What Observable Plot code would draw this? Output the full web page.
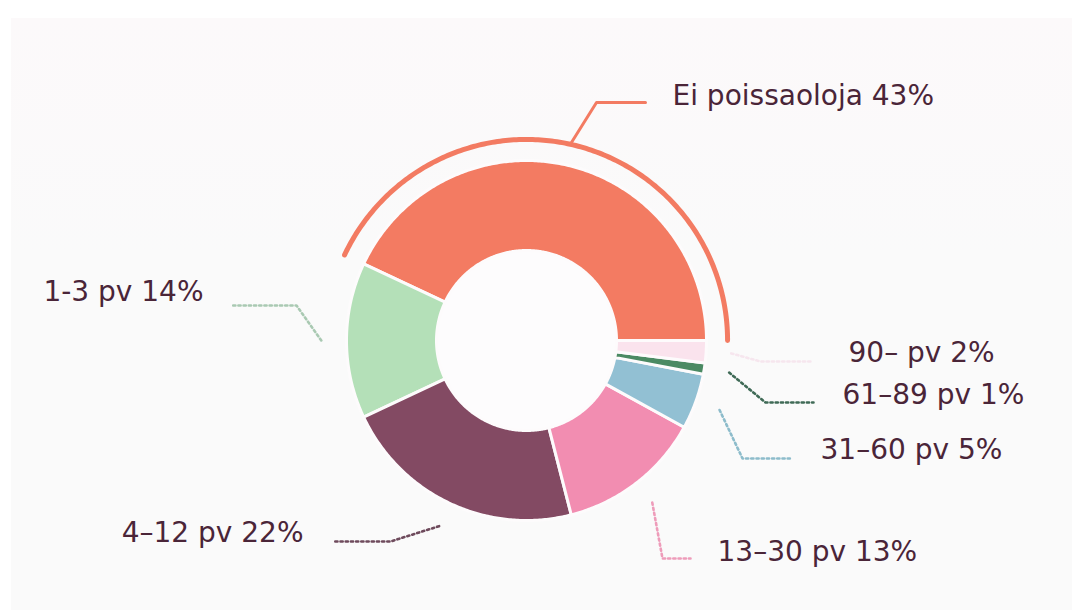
<!DOCTYPE html>
<html><head><meta charset="utf-8">
<script src="https://cdn.jsdelivr.net/npm/d3@7"></script>
<script src="https://cdn.jsdelivr.net/npm/@observablehq/plot@0.6"></script>
<style>
html,body{margin:0;padding:0;background:#fff;width:1072px;height:610px;overflow:hidden}
#panel{position:absolute;left:11px;top:18px;right:0;bottom:0;background:linear-gradient(#fcf9fa,#fafafa 40%)}
#chart{position:absolute;left:0;top:0}
</style></head><body><div id="panel"></div><div id="chart"></div>
<script>
// ---- data ----
const categories = ["Ei poissaoloja", "1-3 pv", "4–12 pv", "13–30 pv", "31–60 pv", "61–89 pv", "90– pv"];
const shares = [43, 14, 22, 13, 5, 1, 2];
const colors = ["#f37b62", "#b4e0b8", "#834a63", "#f28db1", "#92c0d3", "#4b8a63", "#fae3ed"];
const leaderColors = ["#f37b62", "#a9c9b2", "#6e4a5c", "#ee9cba", "#8dbccb", "#3f6a56", "#f6e6ee"];

// ---- layout (pixels of the 1072x610 frame) ----
const W = 1072, H = 610, CX = 526, CY = 340, R = 180;
const INNER = 0.5, HALO = 1.117, START = 1.14;
const labelLayout = [
  {anchor: "start", tx: 672, ty: 96,  ex: 596, lx: 645, ly: 102},
  {anchor: "end",   tx: 203, ty: 292, ex: 296, lx: 230, ly: 305},
  {anchor: "end",   tx: 303, ty: 533, ex: 390, lx: 333, ly: 541},
  {anchor: "start", tx: 717, ty: 552, ex: 662, lx: 690, ly: 558},
  {anchor: "start", tx: 820, ty: 450, ex: 742, lx: 792, ly: 458},
  {anchor: "start", tx: 842, ty: 395, ex: 765, lx: 813, ly: 402},
  {anchor: "start", tx: 848, ty: 353, ex: 760, lx: 812, ly: 361}
];
const ux = x => (x - CX) / R, uy = y => (CY - y) / R;

// ---- geometry from data ----
const total = d3.sum(shares);
let acc = 0;
const slices = categories.map((c, i) => {
  const a0 = acc / total * 2 * Math.PI; acc += shares[i];
  const a1 = acc / total * 2 * Math.PI;
  return {c, i, a0, a1, mid: (a0 + a1) / 2};
});
const ring = [];
for (const s of slices) {
  const n = Math.max(6, Math.ceil((s.a1 - s.a0) / 0.01));
  for (let k = 0; k <= n; k++) { const t = s.a0 + (s.a1 - s.a0) * k / n; ring.push({c: s.c, x: Math.cos(t), y: Math.sin(t)}); }
  for (let k = n; k >= 0; k--) { const t = s.a0 + (s.a1 - s.a0) * k / n; ring.push({c: s.c, x: INNER * Math.cos(t), y: INNER * Math.sin(t)}); }
}
const halo = [];
{
  const s = slices[0], n = 200;
  for (let k = 0; k <= n; k++) { const t = s.a0 + (s.a1 - s.a0) * k / n; halo.push({x: HALO * Math.cos(t), y: HALO * Math.sin(t)}); }
}
const leaders = [];
slices.forEach((s, i) => {
  const L = labelLayout[i], r = i === 0 ? HALO : START;
  leaders.push({c: s.c, i, col: leaderColors[i], x: r * Math.cos(s.mid), y: r * Math.sin(s.mid)});
  leaders.push({c: s.c, i, col: leaderColors[i], x: ux(L.ex), y: uy(L.ly)});
  leaders.push({c: s.c, i, col: leaderColors[i], x: ux(L.lx), y: uy(L.ly)});
});
const labels = slices.map((s, i) => ({
  text: `${s.c} ${shares[i]}%`, anchor: labelLayout[i].anchor,
  x: ux(labelLayout[i].tx), y: uy(labelLayout[i].ty)
}));

const textOpts = {x: "x", y: "y", text: "text", fontSize: 28, fill: "#4a2538", letterSpacing: "0.9px"};

const chart = Plot.plot({
  width: W, height: H, margin: 0,
  x: {domain: [ux(0), ux(W)], axis: null},
  y: {domain: [uy(H), uy(0)], axis: null},
  color: {domain: categories, range: colors},
  style: {background: "transparent", fontFamily: "'DejaVu Sans', sans-serif"},
  marks: [
    Plot.dot([{x: 0, y: 0}], {x: "x", y: "y", r: INNER * R, fill: "#fdfcfd"}),
    Plot.line(ring, {x: "x", y: "y", z: "c", fill: "c", stroke: "#fdfbfc", strokeWidth: 3, curve: "linear-closed"}),
    Plot.line(halo, {x: "x", y: "y", stroke: colors[0], strokeWidth: 5}),
    Plot.line(leaders.filter(d => d.i === 0), {x: "x", y: "y", stroke: colors[0], strokeWidth: 3}),
    Plot.line(leaders.filter(d => d.i > 0), {x: "x", y: "y", z: "c", stroke: d => d.col, strokeWidth: 2.6, strokeDasharray: "2.2,3"}),
    Plot.text(labels.filter(d => d.anchor === "start"), {...textOpts, textAnchor: "start"}),
    Plot.text(labels.filter(d => d.anchor === "end"), {...textOpts, textAnchor: "end"})
  ]
});
document.getElementById("chart").append(chart);
</script></body></html>
